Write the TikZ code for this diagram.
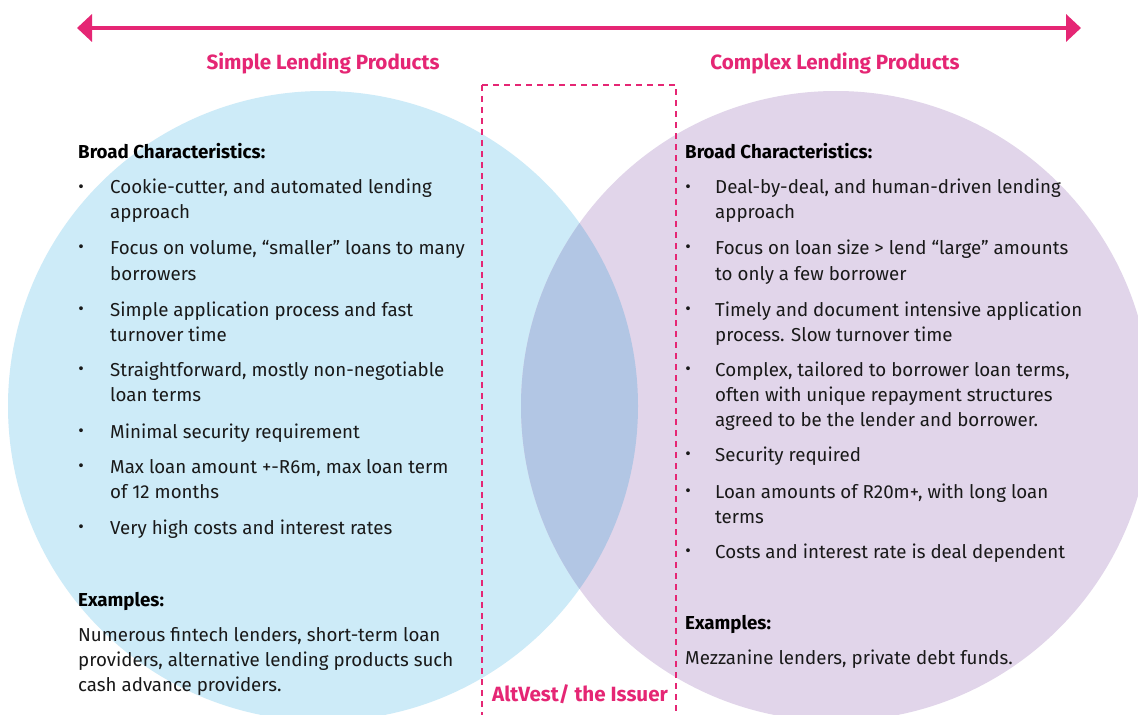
\documentclass[tikz,border=0pt]{standalone}
\usepackage{fontspec}
\setmainfont{Fira Sans}
\usetikzlibrary{arrows.meta}
\definecolor{pinkc}{RGB}{229,38,116}
\definecolor{bluec}{RGB}{205,235,248}
\definecolor{purpc}{RGB}{225,213,234}
\definecolor{lensc}{RGB}{178,198,228}
\definecolor{textc}{RGB}{25,25,25}
\tikzset{
  txt/.style={anchor=base west, inner sep=0pt, text=textc, font=\fontsize{18.8}{22}\selectfont},
  hd/.style={anchor=base west, inner sep=0pt, text=black, font=\fontsize{18.8}{22}\selectfont\bfseries},
  bul/.style={anchor=center, inner sep=0pt, text=textc, font=\fontsize{17}{18}\selectfont},
  ttl/.style={anchor=base, inner sep=0pt, text=pinkc, font=\fontsize{20.7}{24}\selectfont\bfseries},
  mainarrow/.style={draw=pinkc, line width=4bp, {Triangle[length=15bp,width=27bp]}-{Triangle[length=15bp,width=27bp]}},
  issuerbox/.style={draw=pinkc, line width=1.8bp, dash pattern=on 6bp off 5bp},
}
\begin{document}
\begin{tikzpicture}[x=1bp,y=-1bp]
\useasboundingbox (0,0) rectangle (1138,715);
\clip (0,0) rectangle (1138,715);
\fill[white] (0,0) rectangle (1138,715);
% circles
\fill[bluec] (323,406) circle[radius=315];
\fill[purpc] (836,406) circle[radius=315];
\begin{scope}
  \clip (323,406) circle[radius=315];
  \fill[lensc] (836,406) circle[radius=315];
\end{scope}
% arrow
\coordinate (aL) at (77,28);
\coordinate (aR) at (1081,28);
\draw[mainarrow] (aL) -- (aR);
% titles
\node[ttl] (tL) at (323,70) {Simple Lending Products};
\node[ttl] (tR) at (835,70) {Complex Lending Products};
% issuer box
\coordinate (bTL) at (482,85);
\coordinate (bBR) at (676,730);
\draw[issuerbox] (bTL) rectangle (bBR);
\node[ttl] (issuer) at (580,701) {AltVest/ the Issuer};
% ---------- left column ----------
\node[hd] (lh1) at (78,159) {Broad Characteristics:};
\node[bul] (lb1) at (81,189) {\textbullet};
\node[txt] (l1a) at (110,194) {Cookie-cutter, and automated lending};
\node[txt] (l1b) at (110,219) {approach};
\node[bul] (lb2) at (81,249) {\textbullet};
\node[txt] (l2a) at (110,254) {Focus on volume, “smaller” loans to many};
\node[txt] (l2b) at (110,280) {borrowers};
\node[bul] (lb3) at (81,311) {\textbullet};
\node[txt] (l3a) at (110,316) {Simple application process and fast};
\node[txt] (l3b) at (110,341) {turnover time};
\node[bul] (lb4) at (81,371) {\textbullet};
\node[txt] (l4a) at (110,376) {Straightforward, mostly non-negotiable};
\node[txt] (l4b) at (110,401) {loan terms};
\node[bul] (lb5) at (81,433) {\textbullet};
\node[txt] (l5a) at (110,438) {Minimal security requirement};
\node[bul] (lb6) at (81,468) {\textbullet};
\node[txt] (l6a) at (110,473) {Max loan amount +-R6m, max loan term};
\node[txt] (l6b) at (110,498) {of 12 months};
\node[bul] (lb7) at (81,529) {\textbullet};
\node[txt] (l7a) at (110,534) {Very high costs and interest rates};
\node[hd] (lh2) at (78,606) {Examples:};
\node[txt] (le1) at (78,641) {Numerous fintech lenders, short-term loan};
\node[txt] (le2) at (78,666) {providers, alternative lending products such};
\node[txt] (le3) at (78,691) {cash advance providers.};
% ---------- right column ----------
\node[hd] (rh1) at (685,159) {Broad Characteristics:};
\node[bul] (rb1) at (688,189) {\textbullet};
\node[txt] (r1a) at (715,194) {Deal-by-deal, and human-driven lending};
\node[txt] (r1b) at (715,219) {approach};
\node[bul] (rb2) at (688,249) {\textbullet};
\node[txt] (r2a) at (715,254) {Focus on loan size > lend “large” amounts};
\node[txt] (r2b) at (715,280) {to only a few borrower};
\node[bul] (rb3) at (688,311) {\textbullet};
\node[txt] (r3a) at (715,316) {Timely and document intensive application};
\node[txt] (r3b) at (715,341) {process. Slow turnover time};
\node[bul] (rb4) at (688,371) {\textbullet};
\node[txt] (r4a) at (715,376) {Complex, tailored to borrower loan terms,};
\node[txt] (r4b) at (715,401) {often with unique repayment structures};
\node[txt] (r4c) at (715,426) {agreed to be the lender and borrower.};
\node[bul] (rb5) at (688,456) {\textbullet};
\node[txt] (r5a) at (715,461) {Security required};
\node[bul] (rb6) at (688,493) {\textbullet};
\node[txt] (r6a) at (715,498) {Loan amounts of R20m+, with long loan};
\node[txt] (r6b) at (715,523) {terms};
\node[bul] (rb7) at (688,553) {\textbullet};
\node[txt] (r7a) at (715,558) {Costs and interest rate is deal dependent};
\node[hd] (rh2) at (685,629) {Examples:};
\node[txt] (re1) at (685,664) {Mezzanine lenders, private debt funds.};
\end{tikzpicture}
\end{document}
